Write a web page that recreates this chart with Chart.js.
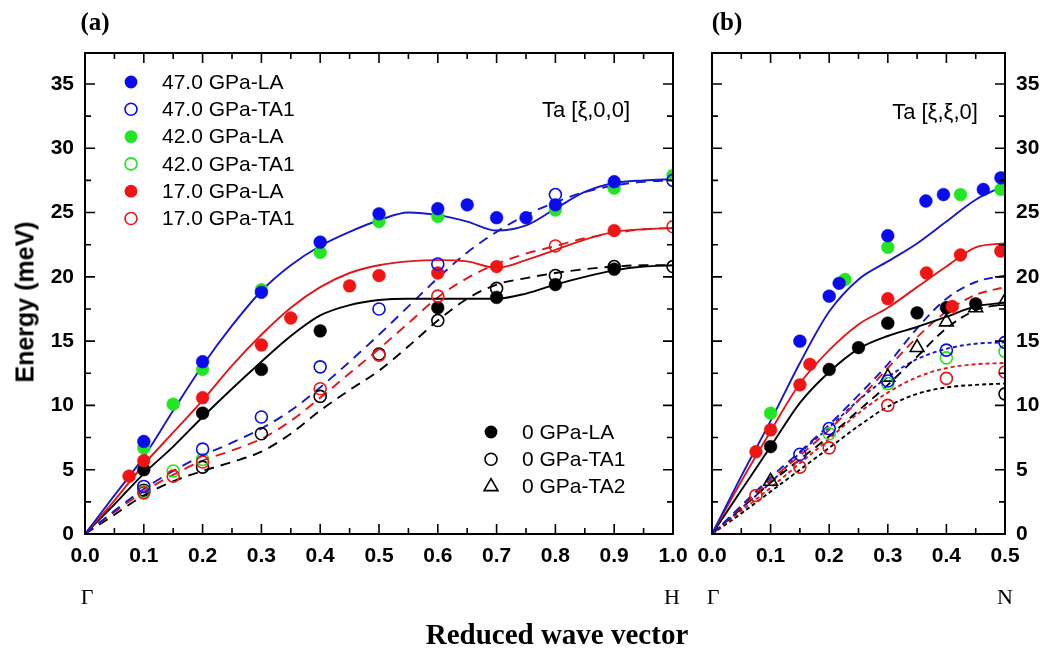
<!DOCTYPE html>
<html><head><meta charset="utf-8">
<script src="https://cdn.jsdelivr.net/npm/chart.js@4/dist/chart.umd.min.js"></script>
<style>
body{margin:0;background:#fff;width:1048px;height:655px;overflow:hidden;position:relative;}
canvas{position:absolute;top:0;}
#ca{left:0;width:700px;height:655px;}
#cb{left:680px;width:368px;height:655px;}
.t{position:absolute;white-space:nowrap;color:#000;transform:translate(-50%,-50%);line-height:1;}
</style></head><body>
<canvas id="ca" width="700" height="655"></canvas>
<canvas id="cb" width="368" height="655"></canvas>
<div class="t" style="left:95px;top:22px;font:bold 25px 'Liberation Serif',serif;">(a)</div>
<div class="t" style="left:727px;top:22px;font:bold 25px 'Liberation Serif',serif;">(b)</div>
<div class="t" style="left:25px;top:302px;font:bold 25px 'Liberation Sans',Arial,sans-serif;transform:translate(-50%,-50%) rotate(-90deg);">Energy (meV)</div>
<div class="t" style="left:87px;top:597px;font:22px 'Liberation Serif',serif;">Γ</div>
<div class="t" style="left:672px;top:597px;font:22px 'Liberation Serif',serif;">H</div>
<div class="t" style="left:713px;top:597px;font:22px 'Liberation Serif',serif;">Γ</div>
<div class="t" style="left:1005px;top:597px;font:22px 'Liberation Serif',serif;">N</div>
<div class="t" style="left:557px;top:634px;font:bold 29px 'Liberation Serif',serif;">Reduced wave vector</div>
<div class="t" style="left:586px;top:110px;font:22px 'Liberation Sans',Arial,sans-serif;">Ta [ξ,0,0]</div>
<div class="t" style="left:935px;top:112px;font:22px 'Liberation Sans',Arial,sans-serif;">Ta [ξ,ξ,0]</div>
<script>
// ---------- tick values ----------
const yTicks = [0,5,10,15,20,25,30,35];
const yMinor = [2.5,7.5,12.5,17.5,22.5,27.5,32.5];
const xTicksA = [0,0.1,0.2,0.3,0.4,0.5,0.6,0.7,0.8,0.9,1.0];
const xMinorA = [0.05,0.15,0.25,0.35,0.45,0.55,0.65,0.75,0.85,0.95];
const xTicksB = [0,0.1,0.2,0.3,0.4,0.5];
const xMinorB = [0.05,0.15,0.25,0.35,0.45];

// ---------- panel (a) [ξ,0,0] measured points ----------
const a47LA  = [[0.1,7.2],[0.2,13.4],[0.3,18.8],[0.4,22.7],[0.5,24.9],[0.6,25.3],[0.65,25.6],[0.7,24.6],[0.75,24.6],[0.8,25.6],[0.9,27.4]];
const a47TA1 = [[0.1,3.7],[0.2,6.6],[0.3,9.1],[0.4,13.0],[0.5,17.5],[0.6,21.0],[0.8,26.4],[1.0,27.5]];
const a42LA  = [[0.1,6.7],[0.15,10.1],[0.2,12.8],[0.3,19.0],[0.4,21.9],[0.5,24.3],[0.6,24.7],[0.8,25.2],[0.9,26.9],[1.0,27.9]];
const a42TA1 = [[0.1,3.3],[0.15,4.9],[0.2,5.8]];
const a17LA  = [[0.075,4.5],[0.1,5.7],[0.2,10.6],[0.3,14.7],[0.35,16.8],[0.45,19.3],[0.5,20.1],[0.6,20.3],[0.7,20.8],[0.9,23.6]];
const a17TA1 = [[0.1,3.2],[0.15,4.5],[0.2,5.6],[0.4,11.3],[0.5,13.9],[0.6,18.5],[0.8,22.4],[1.0,23.9]];
const a0LA   = [[0.1,5.0],[0.2,9.4],[0.3,12.8],[0.4,15.8],[0.6,17.6],[0.7,18.4],[0.8,19.4],[0.9,20.6]];
const a0TA1  = [[0.1,3.4],[0.2,5.2],[0.3,7.8],[0.4,10.7],[0.5,14.0],[0.6,16.6],[0.7,19.1],[0.8,20.1],[0.9,20.8],[1.0,20.8]];

// ---------- panel (a) calculated curves ----------
const xa = [0,0.05,0.1,0.15,0.2,0.25,0.3,0.35,0.4,0.45,0.5,0.55,0.6,0.65,0.7,0.75,0.8,0.85,0.9,0.95,1.0];
const aBlueLA  = [0,3.0,6.0,9.6,13.1,16.2,18.9,20.9,22.4,23.5,24.4,25.0,24.8,24.3,23.6,24.0,25.3,26.6,27.3,27.5,27.6];
const aRedLA   = [0,2.6,5.4,7.9,10.4,13.1,15.5,17.6,19.2,20.3,20.9,21.2,21.3,21.2,20.7,21.3,22.1,22.9,23.5,23.7,23.8];
const aBlackLA = [0,2.3,4.7,6.8,9.1,11.3,13.4,15.4,17.0,17.8,18.2,18.3,18.3,18.3,18.3,18.7,19.4,20.0,20.5,20.8,20.9];
const aBlueTA  = [0,1.8,3.5,4.9,6.1,7.1,8.2,9.6,11.4,13.4,15.5,17.7,19.9,21.9,23.5,24.8,25.8,26.6,27.1,27.4,27.5];
const aRedTA   = [0,1.7,3.3,4.6,5.7,6.5,7.4,8.8,10.6,12.5,14.4,16.4,18.4,19.9,21.0,21.8,22.4,23.0,23.4,23.7,23.8];
const aBlackTA = [0,1.5,3.0,4.1,4.9,5.6,6.4,7.8,9.6,11.2,12.7,14.6,16.6,18.3,19.4,19.9,20.3,20.6,20.8,20.9,20.9];

// ---------- panel (b) [ξ,ξ,0] measured points ----------
const b47LA  = [[0.15,15.0],[0.2,18.5],[0.217,19.5],[0.3,23.2],[0.365,25.9],[0.395,26.4],[0.463,26.8],[0.493,27.7]];
const b47TA1 = [[0.15,6.2],[0.2,8.2],[0.3,11.9],[0.4,14.3],[0.5,14.9]];
const b42LA  = [[0.1,9.4],[0.227,19.8],[0.3,22.3],[0.424,26.4],[0.493,26.8]];
const b42TA1 = [[0.2,7.8],[0.3,11.7],[0.4,13.7],[0.5,14.2]];
const b17LA  = [[0.075,6.4],[0.1,8.1],[0.15,11.6],[0.167,13.2],[0.3,18.3],[0.366,20.3],[0.41,17.7],[0.424,21.7],[0.493,22.0]];
const b17TA1 = [[0.075,3.0],[0.15,5.2],[0.2,6.7],[0.3,10.0],[0.4,12.1],[0.5,12.6]];
const b0LA   = [[0.1,6.8],[0.2,12.8],[0.25,14.5],[0.3,16.4],[0.35,17.2],[0.4,17.6],[0.45,17.9]];
const b0TA1  = [[0.5,10.9]];
const b0TA2  = [[0.1,4.1],[0.3,12.2],[0.35,14.5],[0.4,16.5],[0.45,17.6],[0.5,18.1]];

// ---------- panel (b) calculated curves ----------
const xb = [0,0.05,0.1,0.15,0.2,0.25,0.3,0.35,0.4,0.45,0.5];
const bBlueLA   = [0,4.5,8.8,13.3,17.3,19.8,21.2,22.6,24.3,26.0,27.1];
const bRedLA    = [0,4.1,8.0,11.7,14.3,16.3,17.6,19.2,20.8,22.3,22.6];
const bBlackLA  = [0,3.4,6.8,10.2,12.6,14.4,15.4,16.1,16.9,17.7,18.0];
const bBlueTA2  = [0,2.2,4.4,6.4,8.5,10.8,13.2,16.0,18.3,19.6,20.1];
const bRedTA2   = [0,2.1,4.2,6.1,8.1,10.4,12.9,15.3,17.3,18.6,19.2];
const bBlackTA2 = [0,2.0,4.0,5.8,7.6,9.6,11.6,13.8,16.0,17.4,17.9];
const bBlueTA1  = [0,2.0,4.0,6.3,8.3,10.4,12.2,13.6,14.4,14.8,14.9];
const bRedTA1   = [0,1.8,3.6,5.5,7.4,9.4,11.0,12.2,12.9,13.2,13.3];
const bBlackTA1 = [0,1.6,3.3,5.0,6.7,8.4,9.9,10.9,11.4,11.6,11.7];

// ---------- legend labels ----------
const legend1 = ['47.0 GPa-LA','47.0 GPa-TA1','42.0 GPa-LA','42.0 GPa-TA1','17.0 GPa-LA','17.0 GPa-TA1'];
const legend2 = ['0 GPa-LA','0 GPa-TA1','0 GPa-TA2'];

const BLUE='#0b0bf0', GREEN='#22e622', RED='#f01414', BLACK='#000000';
const BLUE_L='#1818cc', RED_L='#e01818';
const YMAX = 37.41;

function pts(arr){return arr.map(p=>({x:p[0],y:p[1]}));}
function lineDS(xs,ys,color,dash){
  return {type:'line',data:xs.map((x,i)=>({x:x,y:ys[i]})),borderColor:color,borderWidth:1.9,
    borderDash:dash||[],pointRadius:0,fill:false,cubicInterpolationMode:'monotone',order:5};
}
function markDS(arr,color,filled,style){
  return {type:'scatter',data:pts(arr),showLine:false,pointStyle:style||'circle',
    pointRadius:style==='triangle'?8:(filled?6.4:6),
    pointBackgroundColor:filled?color:'rgba(0,0,0,0)',pointBorderColor:color,
    pointBorderWidth:filled?0.5:1.6,order:1};
}

function drawMarker(ctx,x,y,color,filled,style){
  ctx.save();
  ctx.strokeStyle=color; ctx.fillStyle=color; ctx.lineWidth=1.6;
  ctx.beginPath();
  if(style==='triangle'){
    const r=8; ctx.moveTo(x,y-r); ctx.lineTo(x+r*0.866,y+r*0.5); ctx.lineTo(x-r*0.866,y+r*0.5); ctx.closePath();
  } else {
    ctx.arc(x,y,filled?6.4:6,0,Math.PI*2);
  }
  if(filled) ctx.fill(); else ctx.stroke();
  ctx.restore();
}

function framePlugin(xMaj,xMin){
  return {id:'frame',afterDraw(chart){
    const ctx=chart.ctx, a=chart.chartArea, sx=chart.scales.x, sy=chart.scales.y;
    ctx.save();
    ctx.strokeStyle='#000'; ctx.lineWidth=1.6; ctx.beginPath();
    const tick=(v,len,isY)=>{
      if(isY){const p=sy.getPixelForValue(v);ctx.moveTo(a.left,p);ctx.lineTo(a.left+len,p);ctx.moveTo(a.right,p);ctx.lineTo(a.right-len,p);}
      else {const p=sx.getPixelForValue(v);ctx.moveTo(p,a.bottom);ctx.lineTo(p,a.bottom-len);ctx.moveTo(p,a.top);ctx.lineTo(p,a.top+len);}
    };
    yTicks.forEach(v=>tick(v,10,true)); yMinor.forEach(v=>tick(v,6,true));
    xMaj.forEach(v=>tick(v,10,false)); xMin.forEach(v=>tick(v,6,false));
    ctx.stroke();
    ctx.lineWidth=2; ctx.strokeRect(a.left,a.top,a.right-a.left,a.bottom-a.top);
    ctx.restore();
  }};
}

const legendPlugin = {id:'legendA',afterDraw(chart){
  const ctx=chart.ctx;
  ctx.save();
  ctx.font="21px 'Liberation Sans', Arial, sans-serif"; ctx.fillStyle='#000'; ctx.textBaseline='middle'; ctx.textAlign='left';
  const cols=[BLUE,BLUE,GREEN,GREEN,RED,RED];
  legend1.forEach((t,i)=>{const y=82+i*27.3; drawMarker(ctx,131,y,cols[i],i%2===0,'circle'); ctx.fillStyle='#000'; ctx.fillText(t,162,y+1);});
  const st=['circle','circle','triangle'];
  legend2.forEach((t,i)=>{const y=432+i*27.3; drawMarker(ctx,491,y,BLACK,i===0,st[i]); ctx.fillStyle='#000'; ctx.fillText(t,522,y+1);});
  ctx.restore();
}};

const tickFont={family:"'Liberation Sans', Arial, sans-serif",size:21,weight:'bold'};

function makeOptions(xMax,xTicks,yPos,yWidth,pad){
  return {
    responsive:false,animation:false,devicePixelRatio:1,
    layout:{padding:pad},
    plugins:{legend:{display:false},tooltip:{enabled:false}},
    scales:{
      x:{type:'linear',min:0,max:xMax,border:{display:false},grid:{display:false,drawTicks:false},
        ticks:{font:tickFont,color:'#000',padding:10,maxRotation:0,autoSkip:false,callback:v=>Number(v).toFixed(1)},
        afterBuildTicks:s=>{s.ticks=xTicks.map(v=>({value:v}));},
        afterFit:s=>{s.height=121;}},
      y:{type:'linear',position:yPos,min:0,max:YMAX,border:{display:false},grid:{display:false,drawTicks:false},
        ticks:{font:tickFont,color:'#000',padding:11,callback:v=>String(v)},
        afterBuildTicks:s=>{s.ticks=yTicks.map(v=>({value:v}));},
        afterFit:s=>{s.width=yWidth;}}
    }
  };
}

new Chart(document.getElementById('ca'),{
  type:'scatter',
  data:{datasets:[
    markDS(a47LA,BLUE,true), markDS(a47TA1,BLUE,false),
    markDS(a17LA,RED,true), markDS(a17TA1,RED,false),
    markDS(a42LA,GREEN,true), markDS(a42TA1,GREEN,false),
    markDS(a0LA,BLACK,true), markDS(a0TA1,BLACK,false),
    lineDS(xa,aBlueLA,BLUE_L), lineDS(xa,aRedLA,RED_L), lineDS(xa,aBlackLA,BLACK),
    lineDS(xa,aBlueTA,BLUE_L,[10,7]), lineDS(xa,aRedTA,RED_L,[10,7]), lineDS(xa,aBlackTA,BLACK,[10,7])
  ]},
  options:makeOptions(1.0,xTicksA,'left',85,{left:0,right:27,top:53,bottom:0}),
  plugins:[framePlugin(xTicksA,xMinorA),legendPlugin]
});

new Chart(document.getElementById('cb'),{
  type:'scatter',
  data:{datasets:[
    markDS(b47LA,BLUE,true), markDS(b47TA1,BLUE,false),
    markDS(b17LA,RED,true), markDS(b17TA1,RED,false),
    markDS(b42LA,GREEN,true), markDS(b42TA1,GREEN,false),
    markDS(b0LA,BLACK,true), markDS(b0TA1,BLACK,false), markDS(b0TA2,BLACK,false,'triangle'),
    lineDS(xb,bBlueLA,BLUE_L), lineDS(xb,bRedLA,RED_L), lineDS(xb,bBlackLA,BLACK),
    lineDS(xb,bBlueTA2,BLUE_L,[9,6]), lineDS(xb,bRedTA2,RED_L,[9,6]), lineDS(xb,bBlackTA2,BLACK,[9,6]),
    lineDS(xb,bBlueTA1,BLUE_L,[4,3]), lineDS(xb,bRedTA1,RED_L,[4,3]), lineDS(xb,bBlackTA1,BLACK,[4,3])
  ]},
  options:makeOptions(0.5,xTicksB,'right',43,{left:32,right:0,top:53,bottom:0}),
  plugins:[framePlugin(xTicksB,xMinorB)]
});
</script>
</body></html>
